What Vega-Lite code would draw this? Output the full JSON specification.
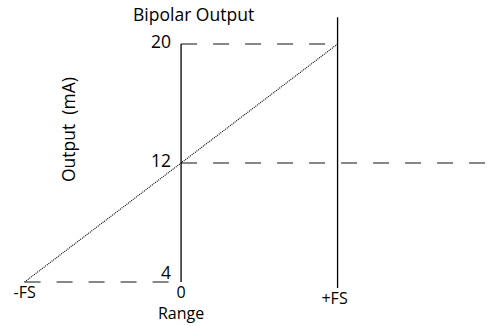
{
  "$schema": "https://vega.github.io/schema/vega-lite/v6.json",
  "width": 490,
  "height": 326,
  "autosize": "none",
  "padding": 0,
  "background": "white",
  "config": {"view": {"stroke": null}, "font": "Open Sans"},
  "datasets": {
    "frames": [
      {"x": 0, "y": 4, "x2": 0, "y2": 20},
      {"x": 1, "y": 3.6, "x2": 1, "y2": 21.8}
    ],
    "guides": [
      {"x": 0, "x2": 1, "y": 20},
      {"x": 0, "x2": 1.97, "y": 12},
      {"x": -1, "x2": 0, "y": 4}
    ],
    "transfer": [
      {"range": -1, "output": 4},
      {"range": 0, "output": 12},
      {"range": 1, "output": 20}
    ],
    "ylabels": [
      {"y": 20, "label": "20"},
      {"y": 12, "label": "12"}
    ],
    "ylabelLow": [{"y": 4, "label": "4"}],
    "xlabels": [
      {"x": -1, "label": "-FS"},
      {"x": 0, "label": "0"}
    ],
    "xlabelRight": [
      {"x": 1, "label": "+FS"}
    ],
    "titles": [
      {"x": 0.08, "y": 21.9, "label": "Bipolar Output"}
    ],
    "ytitle": [
      {"x": -0.71, "y": 14.25, "label": "Output \u00a0(mA)"}
    ],
    "xtitle": [
      {"x": 0, "y": 4, "label": "Range"}
    ]
  },
  "layer": [
    {
      "data": {"name": "frames"},
      "mark": {"type": "rule", "color": "black", "strokeWidth": 1.3},
      "encoding": {
        "x": {"field": "x", "type": "quantitative", "scale": {"domain": [-1.157, 1.974], "nice": false, "zero": false}, "axis": null},
        "y": {"field": "y", "type": "quantitative", "scale": {"domain": [1.04, 22.96], "nice": false, "zero": false}, "axis": null},
        "x2": {"field": "x2"},
        "y2": {"field": "y2"}
      }
    },
    {
      "data": {"name": "guides"},
      "mark": {"type": "rule", "color": "#111111", "strokeWidth": 1.2, "strokeDash": [16, 16]},
      "encoding": {
        "x": {"field": "x", "type": "quantitative"},
        "x2": {"field": "x2"},
        "y": {"field": "y", "type": "quantitative"}
      }
    },
    {
      "data": {"name": "transfer"},
      "mark": {"type": "line", "color": "black", "strokeWidth": 1.1, "strokeDash": [1, 1]},
      "encoding": {
        "x": {"field": "range", "type": "quantitative"},
        "y": {"field": "output", "type": "quantitative"}
      }
    },
    {
      "data": {"name": "ylabels"},
      "mark": {"type": "text", "align": "right", "baseline": "middle", "dx": -10, "dy": -1, "fontSize": 17.5, "color": "black"},
      "encoding": {
        "x": {"datum": 0, "type": "quantitative"},
        "y": {"field": "y", "type": "quantitative"},
        "text": {"field": "label"}
      }
    },
    {
      "data": {"name": "ylabelLow"},
      "mark": {"type": "text", "align": "right", "baseline": "alphabetic", "dx": -10, "dy": -3, "fontSize": 17.5, "color": "black"},
      "encoding": {
        "x": {"datum": 0, "type": "quantitative"},
        "y": {"field": "y", "type": "quantitative"},
        "text": {"field": "label"}
      }
    },
    {
      "data": {"name": "xlabels"},
      "mark": {"type": "text", "align": "center", "baseline": "middle", "dy": 11.5, "fontSize": 16, "color": "black"},
      "encoding": {
        "x": {"field": "x", "type": "quantitative"},
        "y": {"datum": 4, "type": "quantitative"},
        "text": {"field": "label"}
      }
    },
    {
      "data": {"name": "xlabelRight"},
      "mark": {"type": "text", "align": "center", "baseline": "middle", "dx": -3, "dy": 17, "fontSize": 16, "color": "black"},
      "encoding": {
        "x": {"field": "x", "type": "quantitative"},
        "y": {"datum": 4, "type": "quantitative"},
        "text": {"field": "label"}
      }
    },
    {
      "data": {"name": "xtitle"},
      "mark": {"type": "text", "align": "center", "baseline": "middle", "dy": 32.5, "fontSize": 16, "color": "black"},
      "encoding": {
        "x": {"field": "x", "type": "quantitative"},
        "y": {"field": "y", "type": "quantitative"},
        "text": {"field": "label"}
      }
    },
    {
      "data": {"name": "titles"},
      "mark": {"type": "text", "align": "center", "baseline": "middle", "fontSize": 17.5, "color": "black"},
      "encoding": {
        "x": {"field": "x", "type": "quantitative"},
        "y": {"field": "y", "type": "quantitative"},
        "text": {"field": "label"}
      }
    },
    {
      "data": {"name": "ytitle"},
      "mark": {"type": "text", "align": "center", "baseline": "middle", "angle": 270, "fontSize": 17.5, "color": "black"},
      "encoding": {
        "x": {"field": "x", "type": "quantitative"},
        "y": {"field": "y", "type": "quantitative"},
        "text": {"field": "label"}
      }
    }
  ]
}
